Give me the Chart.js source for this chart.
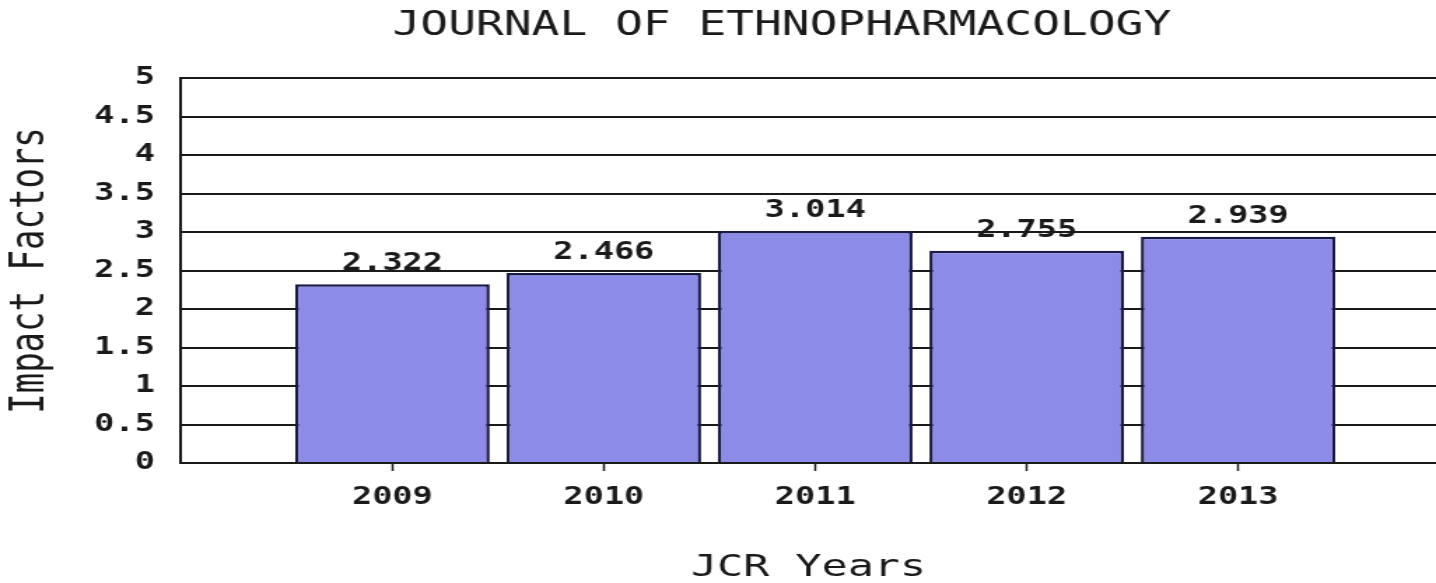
<!DOCTYPE html>
<html>
<head>
<meta charset="utf-8">
<script src="https://cdn.jsdelivr.net/npm/chart.js@4/dist/chart.umd.min.js"></script>
<style>
  html, body { margin: 0; padding: 0; background: #ffffff; overflow: hidden; }
</style>
</head>
<body>
<canvas id="c" width="1026" height="583" style="display:block;width:1436px;height:583px;"></canvas>
<script>
// ---- data ----
const chartTitle = 'JOURNAL OF ETHNOPHARMACOLOGY';
const xAxisTitle = 'JCR Years';
const yAxisTitle = 'Impact Factors';
const years = ['2009', '2010', '2011', '2012', '2013'];
const impactFactors = [2.322, 2.466, 3.014, 2.755, 2.939];
const valueLabels = ['2.322', '2.466', '3.014', '2.755', '2.939'];
const xRange = [2008, 2013.936];
const yRange = [0, 5];
const yStep = 0.5;

const FONT = "'DejaVu Sans Mono', 'Liberation Mono', monospace";
const INK = '#1a1a1a';

const valueLabelPlugin = {
  id: 'valueLabels',
  afterDatasetsDraw(chart) {
    const ctx = chart.ctx;
    const meta = chart.getDatasetMeta(0);
    ctx.save();
    ctx.font = 'bold 24px ' + FONT;
    ctx.fillStyle = INK;
    ctx.textAlign = 'center';
    ctx.textBaseline = 'alphabetic';
    meta.data.forEach((bar, i) => {
      ctx.fillText(valueLabels[i], bar.x, bar.y - 14);
    });
    ctx.restore();
  }
};

const titleShiftPlugin = {
  id: 'titleShift',
  afterLayout(chart) {
    const t = chart.titleBlock;
    if (t) { t.left += 45.6; t.right += 45.6; }
  }
};

new Chart(document.getElementById('c'), {
  type: 'bar',
  data: {
    datasets: [{
      data: years.map((y, i) => ({ x: Number(y), y: impactFactors[i] })),
      backgroundColor: '#8c8ce8',
      borderColor: '#1a1a48',
      borderWidth: 2.5,
      borderSkipped: 'bottom',
      categoryPercentage: 1,
      barPercentage: 0.92
    }]
  },
  options: {
    responsive: false,
    animation: false,
    devicePixelRatio: 1,
    layout: { padding: 0 },
    plugins: {
      legend: { display: false },
      tooltip: { enabled: false },
      title: {
        display: true,
        text: chartTitle,
        color: INK,
        font: { family: FONT, size: 33, weight: 'normal', lineHeight: 1 },
        padding: { top: 9.5, bottom: 35.5 }
      }
    },
    scales: {
      x: {
        type: 'linear',
        position: 'bottom',
        offset: false,
        min: xRange[0],
        max: xRange[1],
        afterBuildTicks(scale) {
          scale.ticks = years.map(y => ({ value: Number(y) }));
        },
        afterFit(scale) { scale.height = 120; },
        ticks: {
          callback: (v) => String(v),
          color: INK,
          font: { family: FONT, size: 24, weight: 'bold' },
          padding: 12,
          maxRotation: 0,
          autoSkip: false
        },
        grid: {
          offset: false,
          drawOnChartArea: false,
          drawTicks: true,
          tickLength: 8,
          tickColor: INK,
          tickWidth: 1.5,
          color: INK
        },
        border: { display: true, color: INK, width: 2 },
        title: {
          display: true,
          text: xAxisTitle,
          color: INK,
          font: { family: FONT, size: 31, weight: 'normal', lineHeight: 1 },
          padding: { top: 0, bottom: 0 }
        }
      },
      y: {
        min: yRange[0],
        max: yRange[1],
        afterFit(scale) { scale.width = 129.3; },
        ticks: {
          stepSize: yStep,
          callback: (v) => String(v),
          color: INK,
          font: { family: FONT, size: 24, weight: 'bold' },
          padding: 18.6
        },
        grid: {
          color: INK,
          lineWidth: 2,
          drawTicks: false
        },
        border: { display: true, color: INK, width: 2 },
        title: {
          display: true,
          text: yAxisTitle,
          color: INK,
          font: { family: FONT, size: 34, weight: 'normal', lineHeight: 1 },
          padding: { top: 5, bottom: 0 }
        }
      }
    }
  },
  plugins: [valueLabelPlugin, titleShiftPlugin]
});
</script>
</body>
</html>
